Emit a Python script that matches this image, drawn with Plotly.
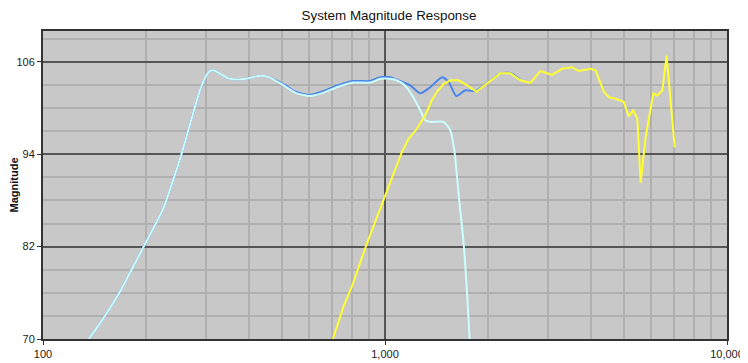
import plotly.graph_objects as go

# Low-frequency driver (light cyan)
low_f = [136, 146.6, 167.7, 185.6, 197, 224.5, 240, 254, 266, 287.6, 300, 307.7, 315, 352, 394, 431, 461,
         505, 552, 604, 661, 723, 809, 905, 969, 1036, 1080, 1140, 1210, 1268, 1312, 1356, 1483, 1552,
         1595, 1648, 1698, 1738, 1768]
low_db = [70, 72, 76.1, 79.8, 82, 86.9, 90.6, 94, 97.1, 102.3, 104.2, 104.8, 104.9, 103.8, 103.8, 104.2, 103.95,
          102.95, 101.9, 101.56, 102, 102.7, 103.3, 103.3, 103.8, 103.8, 103.6, 103.0, 101.4, 99.7, 98.4, 98.2, 98.2, 97.1,
          94.5, 88.0, 82.4, 75.9, 70]

# System total (blue)
sys_f = [136, 146.6, 167.7, 185.6, 197, 224.5, 240, 254, 266, 287.6, 300, 307.7, 315, 352, 394, 431, 461,
         505, 552, 604, 661, 723, 809, 905, 969, 1036, 1108, 1185, 1268, 1356, 1468, 1535, 1616, 1718,
         1840, 1988, 2172, 2326, 2488]
sys_db = [70, 72, 76.1, 79.8, 82, 86.9, 90.6, 94, 97.1, 102.3, 104.2, 104.8, 104.9, 103.8, 103.8, 104.2, 103.95,
          103.1, 102.05, 101.7, 102.2, 102.9, 103.5, 103.5, 104.0, 104.0, 103.5, 102.95, 101.9, 102.7, 104.0, 103.4,
          101.56, 102.3, 102.2, 103.2, 104.5, 104.55, 103.65]

# High-frequency driver (yellow)
high_f = [704, 756, 800, 885, 947, 1001, 1060, 1121, 1172, 1240, 1312, 1371, 1419, 1483, 1552, 1641, 1738,
          1850, 1988, 2172, 2326, 2488, 2661, 2848, 3082, 3296, 3526, 3686, 3991, 4127, 4366, 4513, 4721,
          4991, 5161, 5318, 5468, 5591, 5781, 6089, 6256, 6471, 6659, 7031]
high_db = [70, 74.2, 76.8, 82.4, 85.8, 88.7, 91.5, 94.3, 96.0, 97.3, 99.1, 101, 102.1, 103.1, 103.6, 103.6, 102.95,
           102.1, 103.2, 104.5, 104.5, 103.6, 103.25, 104.8, 104.3, 105.1, 105.3, 104.8, 105.1, 104.9, 102.1, 101.4, 101.2,
           100.8, 98.9, 99.7, 98.6, 90.3, 96.2, 101.9, 101.6, 102.3, 106.8, 94.9]

x_tick_vals = [100, 1000, 10000]
x_tick_text = ["100", "1,000", "10,000"]
y_tick_vals = [70, 82, 94, 106]

fig = go.Figure()
fig.add_trace(go.Scatter(x=sys_f, y=sys_db, mode="lines",
                         line=dict(color="#4a86e8", width=2, shape="spline", smoothing=0.6),
                         showlegend=False, hoverinfo="skip"))
fig.add_trace(go.Scatter(x=low_f, y=low_db, mode="lines",
                         line=dict(color="#ccffff", width=2, shape="spline", smoothing=0.6),
                         showlegend=False, hoverinfo="skip"))
fig.add_trace(go.Scatter(x=high_f, y=high_db, mode="lines", line=dict(color="#ffff33", width=2),
                         showlegend=False, hoverinfo="skip"))

# The page body adds an 8px offset, so the figure is 8px smaller and margins compensate.
fig.update_layout(
    width=740, height=355,
    margin=dict(l=35, r=21, t=23, b=24, autoexpand=False),
    paper_bgcolor="white",
    plot_bgcolor="#c8c8c8",
    font=dict(family="Liberation Sans, Arial, sans-serif", size=11, color="#222"),
    title=dict(text="System Magnitude Response", x=381 / 740, xanchor="center", y=1 - 7 / 355,
               yanchor="middle", font=dict(size=13.4, color="#111")),
    xaxis=dict(
        type="log", range=[2, 4], tickvals=x_tick_vals, ticktext=x_tick_text,
        showgrid=True, gridcolor="#555555", gridwidth=1.5,
        ticks="outside", ticklen=4, tickcolor="#333", tickwidth=1,
        showline=True, linecolor="#333", linewidth=2, mirror=True,
        minor=dict(dtick="D1", showgrid=True, gridcolor="#b0b0b0", gridwidth=2, ticks=""),
        zeroline=False, fixedrange=True,
    ),
    yaxis=dict(
        range=[70, 110], tickvals=y_tick_vals,
        showgrid=True, gridcolor="#555555", gridwidth=2,
        ticks="outside", ticklen=4, tickcolor="#333", tickwidth=1,
        showline=True, linecolor="#333", linewidth=2, mirror=True,
        minor=dict(tick0=70, dtick=3, showgrid=True, gridcolor="#b0b0b0", gridwidth=2, ticks=""),
        title=dict(text="<b>Magnitude</b>", standoff=0, font=dict(size=11, color="#111")),
        zeroline=False, fixedrange=True,
    ),
)

fig.write_html("out.html")
